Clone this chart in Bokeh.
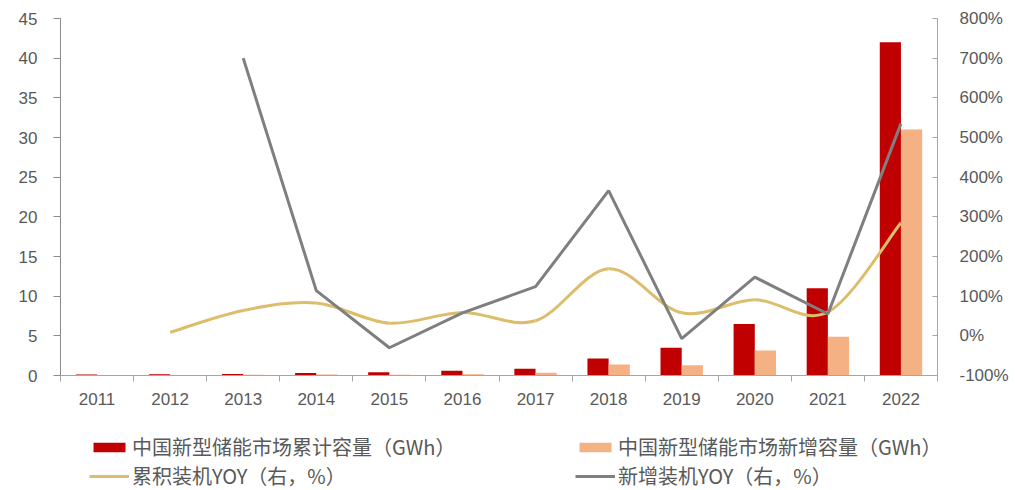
from bokeh.plotting import figure
from bokeh.layouts import column
from bokeh.models import (Range1d, LinearAxis, FixedTicker, SingleIntervalTicker,
                          PrintfTickFormatter, Legend, LegendItem, ColumnDataSource)
from bokeh.embed import file_html
from bokeh.resources import INLINE

# ---- data ----
years = [2011, 2012, 2013, 2014, 2015, 2016, 2017, 2018, 2019, 2020, 2021, 2022]
cum_capacity = [0.13, 0.15, 0.18, 0.3, 0.42, 0.6, 0.85, 2.15, 3.5, 6.5, 11.0, 42.0]
new_capacity = [0.02, 0.02, 0.08, 0.12, 0.1, 0.15, 0.34, 1.4, 1.3, 3.15, 4.9, 31.0]
cum_yoy_years = [2012, 2013, 2014, 2015, 2016, 2017, 2018, 2019, 2020, 2021, 2022]
cum_yoy = [9, 64, 83, 32, 59, 38, 169, 58, 91, 60, 285]
new_yoy_years = [2013, 2014, 2015, 2016, 2017, 2018, 2019, 2020, 2021, 2022]
new_yoy = [700, 114, -30, 58, 124, 366, -7, 148, 55, 535]

names = ["中国新型储能市场累计容量（GWh）", "中国新型储能市场新增容量（GWh）",
         "累积装机YOY（右，%）", "新增装机YOY（右，%）"]

RED = "#c00000"
ORANGE = "#f4b183"
GOLD = "#dcbd6c"
GREY = "#7f7f7f"
TXT = "#595959"
AX = "#a6a6a6"

p = figure(width=1015, height=410, output_backend="svg", toolbar_location=None,
           x_range=Range1d(2010.5, 2022.5), y_range=Range1d(0, 45),
           min_border_left=60, min_border_right=78, min_border_top=18,
           min_border_bottom=35, x_axis_type=None, y_axis_type=None)
p.outline_line_color = None
p.grid.visible = False
p.frame_align = False
p.extra_y_ranges = {"pct": Range1d(-100, 800)}

bw = 0.29
src = ColumnDataSource(dict(
    xc=[y - bw / 2 for y in years], xn=[y + bw / 2 for y in years],
    cum=cum_capacity, new=new_capacity))
p.vbar(x="xc", top="cum", width=bw, source=src, fill_color=RED, line_color=None)
p.vbar(x="xn", top="new", width=bw, source=src, fill_color=ORANGE, line_color=None)

# smooth (Catmull-Rom style Bezier) curve through the cumulative YOY points
n = len(cum_yoy)
x0, y0, x1, y1, cx0, cy0, cx1, cy1 = [], [], [], [], [], [], [], []
for i in range(n - 1):
    xa, ya = cum_yoy_years[i], cum_yoy[i]
    xb, yb = cum_yoy_years[i + 1], cum_yoy[i + 1]
    xp, yp = (cum_yoy_years[i - 1], cum_yoy[i - 1]) if i > 0 else (xa, ya)
    xq, yq = (cum_yoy_years[i + 2], cum_yoy[i + 2]) if i + 2 < n else (xb, yb)
    x0.append(xa); y0.append(ya); x1.append(xb); y1.append(yb)
    cx0.append(xa + (xb - xp) / 6); cy0.append(ya + (yb - yp) / 6)
    cx1.append(xb - (xq - xa) / 6); cy1.append(yb - (yq - ya) / 6)
p.bezier(x0=x0, y0=y0, x1=x1, y1=y1, cx0=cx0, cy0=cy0, cx1=cx1, cy1=cy1,
         line_color=GOLD, line_width=3, y_range_name="pct")
p.line(new_yoy_years, new_yoy, line_color=GREY, line_width=3, y_range_name="pct")

FONT = "Liberation Sans"
# x axis
xa_ = LinearAxis(ticker=FixedTicker(ticks=years, minor_ticks=[y + 0.5 for y in [2010] + years]))
xa_.major_tick_out = 0
xa_.major_tick_in = 0
xa_.minor_tick_out = 6
xa_.minor_tick_in = 0
xa_.minor_tick_line_color = AX
xa_.axis_line_color = AX
xa_.major_label_standoff = 11
xa_.major_label_text_font = FONT
xa_.major_label_text_font_size = "17px"
xa_.major_label_text_color = TXT
p.add_layout(xa_, "below")

# left axis
ya_ = LinearAxis(ticker=SingleIntervalTicker(interval=5))
ya_.major_tick_out = 7
ya_.major_tick_in = 0
ya_.minor_tick_line_color = None
ya_.axis_line_color = "#8c8c8c"
ya_.major_tick_line_color = "#8c8c8c"
ya_.major_label_standoff = 16
ya_.major_label_text_font = FONT
ya_.major_label_text_font_size = "17px"
ya_.major_label_text_color = TXT
p.add_layout(ya_, "left")

# right axis
ra = LinearAxis(y_range_name="pct", ticker=SingleIntervalTicker(interval=100),
                formatter=PrintfTickFormatter(format="%d%%"))
ra.major_tick_out = 0
ra.major_tick_in = 5
ra.minor_tick_line_color = None
ra.axis_line_color = AX
ra.major_tick_line_color = AX
ra.major_label_standoff = 18
ra.major_label_text_font = FONT
ra.major_label_text_font_size = "17px"
ra.major_label_text_color = TXT
p.add_layout(ra, "right")

# ---- legend panel (series drawn out of its view, only the legend shows) ----
lf = figure(width=1015, height=80, output_backend="svg", toolbar_location=None,
            x_range=Range1d(0, 1), y_range=Range1d(0, 1),
            min_border=0, x_axis_type=None, y_axis_type=None)
lf.outline_line_color = None
lf.grid.visible = False
lf.frame_align = False
lf.extra_y_ranges = {"pct": Range1d(-100, 800)}
g1 = lf.vbar(x="xc", top="cum", width=bw, source=src, fill_color=RED, line_color=None)
g2 = lf.vbar(x="xn", top="new", width=bw, source=src, fill_color=ORANGE, line_color=None)
g3 = lf.line(cum_yoy_years, cum_yoy, line_color=GOLD, line_width=3, y_range_name="pct")
g4 = lf.line(new_yoy_years, new_yoy, line_color=GREY, line_width=3, y_range_name="pct")

legend = Legend(items=[LegendItem(label=names[0], renderers=[g1]),
                       LegendItem(label=names[1], renderers=[g2]),
                       LegendItem(label=names[2], renderers=[g3]),
                       LegendItem(label=names[3], renderers=[g4])],
                orientation="horizontal", ncols=2,
                location=(89, 0), margin=0, padding=0, spacing=0,
                glyph_width=40, glyph_height=12, label_standoff=3,
                label_width=443, label_height=20,
                label_text_font="Noto Sans CJK SC", label_text_font_size="20px",
                label_text_color=TXT, border_line_color=None,
                background_fill_alpha=0)
lf.add_layout(legend, "center")

open("out.html", "w").write(file_html(column(p, lf, spacing=0), INLINE))
